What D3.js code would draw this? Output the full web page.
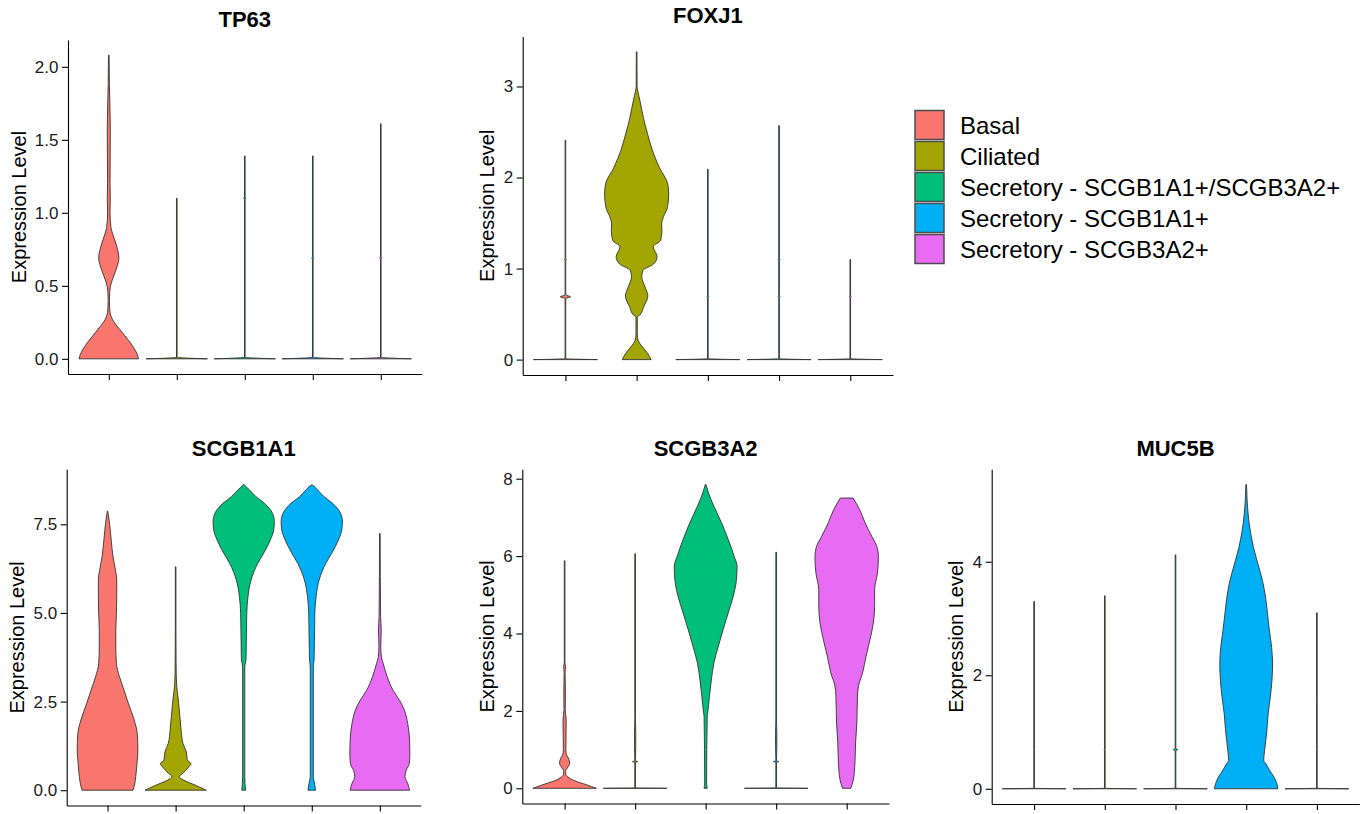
<!DOCTYPE html>
<html>
<head>
<meta charset="utf-8">
<title>Violin plots</title>
<script src="https://cdn.jsdelivr.net/npm/d3@7"></script>
<style>
  body { margin: 0; background: #fff; }
  text { font-family: "Liberation Sans", Arial, sans-serif; }
</style>
</head>
<body>
<script>
var cellTypes = ["Basal", "Ciliated", "Secretory - SCGB1A1+/SCGB3A2+", "Secretory - SCGB1A1+", "Secretory - SCGB3A2+"];
var colors = ["#F8766D", "#A3A500", "#00BF7D", "#00B0F6", "#E76BF3"];

// violin outlines, one per cell type: [expression level, relative half width]
var tp63Violins = [
  [[0,0.97],[0.03,0.93],[0.09,0.77],[0.18,0.44],[0.27,0.12],[0.32,0.04],[0.4,0.02],[0.46,0.03],[0.52,0.08],[0.6,0.22],[0.69,0.33],[0.77,0.26],[0.86,0.12],[0.9,0.07],[1.0,0.04],[1.1,0.05],[1.2,0.04],[1.55,0.05],[1.75,0.035],[1.88,0.02],[2.08,0.01]],
  [[0,1],[0.01,0.01],[1.1,0.01]],
  [[0,1],[0.01,0.01],[1.09,0.01],[1.1,0.03],[1.11,0.01],[1.39,0.01]],
  [[0,1],[0.01,0.01],[0.68,0.01],[0.69,0.03],[0.7,0.01],[1.39,0.01]],
  [[0,1],[0.01,0.01],[0.68,0.01],[0.69,0.03],[0.7,0.01],[1.61,0.01]]
];
var tp63Ticks = [0, 0.5, 1, 1.5, 2];

var foxj1Violins = [
  [[0,1],[0.01,0.01],[0.67,0.01],[0.69,0.16],[0.71,0.01],[1.09,0.01],[1.1,0.03],[1.11,0.01],[2.41,0.01]],
  [[0,0.45],[0.07,0.34],[0.14,0.18],[0.21,0.05],[0.28,0.02],[0.47,0.02],[0.49,0.1],[0.58,0.22],[0.7,0.35],[0.8,0.26],[0.91,0.16],[0.98,0.2],[1.05,0.53],[1.13,0.64],[1.24,0.52],[1.31,0.75],[1.42,0.79],[1.49,0.78],[1.57,0.84],[1.67,0.96],[1.82,1.0],[1.93,0.97],[2.11,0.71],[2.3,0.49],[2.48,0.34],[2.66,0.21],[2.85,0.1],[2.96,0.03],[3.0,0.015],[3.38,0.01]],
  [[0,1],[0.01,0.01],[0.68,0.01],[0.69,0.03],[0.7,0.01],[2.09,0.01]],
  [[0,1],[0.01,0.01],[0.68,0.01],[0.69,0.03],[0.7,0.01],[1.09,0.01],[1.1,0.03],[1.11,0.01],[2.57,0.01]],
  [[0,1],[0.01,0.01],[0.68,0.01],[0.69,0.03],[0.7,0.01],[1.1,0.01]]
];
var foxj1Ticks = [0, 1, 2, 3];

var scgb1a1Violins = [
  [[0,0.83],[0.15,0.88],[0.38,0.92],[0.75,0.96],[1.13,0.99],[1.6,0.97],[1.98,0.87],[2.45,0.68],[2.82,0.54],[3.2,0.39],[3.57,0.29],[4.05,0.27],[4.52,0.27],[4.99,0.29],[5.46,0.3],[5.93,0.3],[6.2,0.26],[6.58,0.18],[7.05,0.12],[7.53,0.065],[7.8,0.02],[7.87,0.01]],
  [[0,1],[0.14,0.65],[0.28,0.27],[0.38,0.12],[0.47,0.23],[0.66,0.43],[0.75,0.5],[0.85,0.38],[1.08,0.35],[1.32,0.24],[1.69,0.18],[2.07,0.14],[2.45,0.1],[2.82,0.05],[3.0,0.03],[3.57,0.015],[4.5,0.01],[6.3,0.01]],
  [[0,0.06],[0.38,0.035],[3.5,0.035],[3.67,0.075],[4.99,0.1],[5.46,0.14],[5.93,0.24],[6.4,0.46],[6.68,0.65],[7.06,0.87],[7.34,0.98],[7.58,1.0],[7.81,0.94],[8.09,0.68],[8.28,0.4],[8.47,0.19],[8.6,0.03],[8.62,0.01]],
  [[0,0.125],[0.19,0.09],[0.38,0.05],[3.5,0.05],[3.67,0.075],[4.99,0.1],[5.46,0.14],[5.93,0.24],[6.4,0.46],[6.68,0.65],[7.06,0.87],[7.34,0.98],[7.58,1.0],[7.81,0.94],[8.09,0.68],[8.28,0.4],[8.47,0.19],[8.6,0.03],[8.61,0.01]],
  [[0,0.97],[0.19,0.91],[0.38,0.82],[0.56,0.86],[0.75,0.96],[1.03,0.98],[1.41,0.97],[1.88,0.91],[2.26,0.8],[2.54,0.64],[2.82,0.43],[3.2,0.24],[3.57,0.11],[3.76,0.05],[4.05,0.03],[4.52,0.045],[4.9,0.025],[6.02,0.015],[7.24,0.01]]
];
var scgb1a1Ticks = [0, 2.5, 5, 7.5];

var scgb3a2Violins = [
  [[0,1],[0.095,0.68],[0.18,0.36],[0.27,0.14],[0.35,0.04],[0.44,0.03],[0.53,0.09],[0.65,0.16],[0.78,0.12],[0.87,0.06],[1.0,0.04],[1.77,0.05],[2.03,0.02],[2.5,0.025],[3.0,0.015],[3.15,0.03],[3.24,0.01],[5.88,0.01]],
  [[0,1],[0.01,0.01],[0.67,0.01],[0.69,0.085],[0.71,0.01],[1.1,0.02],[1.4,0.02],[1.6,0.015],[1.8,0.01],[6.06,0.01]],
  [[0,0.05],[0.14,0.03],[1.86,0.05],[1.95,0.065],[2.38,0.12],[2.8,0.18],[3.24,0.26],[3.67,0.4],[4.1,0.55],[4.53,0.71],[4.96,0.87],[5.39,0.97],[5.74,0.99],[5.99,0.9],[6.43,0.71],[6.86,0.5],[7.29,0.26],[7.63,0.09],[7.85,0.01]],
  [[0,1],[0.01,0.01],[0.67,0.01],[0.69,0.085],[0.71,0.01],[1.1,0.02],[1.4,0.02],[1.6,0.015],[1.8,0.01],[6.1,0.01]],
  [[0,0.13],[0.22,0.21],[0.65,0.26],[1.17,0.28],[1.69,0.32],[2.38,0.34],[2.64,0.37],[2.98,0.5],[3.41,0.61],[3.93,0.76],[4.27,0.84],[4.7,0.88],[5.13,0.88],[5.56,0.97],[5.99,1.0],[6.25,0.95],[6.51,0.79],[6.86,0.58],[7.2,0.41],[7.5,0.2]]
];
var scgb3a2Ticks = [0, 2, 4, 6, 8];

var muc5bViolins = [
  [[0,1],[0.01,0.01],[0.68,0.01],[0.69,0.03],[0.7,0.01],[3.3,0.01]],
  [[0,1],[0.01,0.01],[0.68,0.01],[0.69,0.03],[0.7,0.01],[3.4,0.01]],
  [[0,1],[0.01,0.01],[0.67,0.01],[0.69,0.07],[0.71,0.01],[4.12,0.01]],
  [[0,1],[0.094,0.96],[0.21,0.87],[0.33,0.73],[0.45,0.61],[0.5,0.55],[0.68,0.58],[1.03,0.65],[1.32,0.69],[1.62,0.76],[1.91,0.81],[2.2,0.83],[2.49,0.8],[2.79,0.73],[3.08,0.67],[3.37,0.61],[3.67,0.51],[3.96,0.37],[4.25,0.23],[4.54,0.13],[4.84,0.06],[5.07,0.03],[5.36,0.01]],
  [[0,1],[0.01,0.01],[0.68,0.01],[0.69,0.03],[0.7,0.01],[1.59,0.01],[1.6,0.03],[1.61,0.01],[3.1,0.01]]
];
var muc5bTicks = [0, 2, 4];

// panel frames (plot area in page pixels)
var panels = [
  {gene: "TP63",    violins: tp63Violins,    ticks: tp63Ticks,    fmt: ".1f", left: 68,    right: 421.6,  top: 40,    bottom: 374,   labelX: 26},
  {gene: "FOXJ1",   violins: foxj1Violins,   ticks: foxj1Ticks,   fmt: "d",   left: 522.7, right: 893,    top: 36.5,  bottom: 375,   labelX: 494},
  {gene: "SCGB1A1", violins: scgb1a1Violins, ticks: scgb1a1Ticks, fmt: ".1f", left: 66.7,  right: 420.7,  top: 469.3, bottom: 805.5, labelX: 24},
  {gene: "SCGB3A2", violins: scgb3a2Violins, ticks: scgb3a2Ticks, fmt: "d",   left: 522.3, right: 889,    top: 469.3, bottom: 803.5, labelX: 494},
  {gene: "MUC5B",   violins: muc5bViolins,   ticks: muc5bTicks,   fmt: "d",   left: 991.7, right: 1359.3, top: 469.3, bottom: 804,   labelX: 963}
];

var svg = d3.select("body").append("svg")
    .attr("width", 1363)
    .attr("height", 814);

panels.forEach(function(p) {
    var maxVal = d3.max(p.violins, function(v) { return d3.max(v, function(d) { return d[0]; }); });
    var y = d3.scaleLinear()
        .domain([-0.05 * maxVal, 1.05 * maxVal])
        .range([p.bottom, p.top]);
    var x = d3.scalePoint()
        .domain(cellTypes)
        .range([p.left, p.right])
        .padding(0.6);
    var half = x.step() * 0.45;

    var area = d3.area()
        .y(function(d) { return y(d[0]); })
        .x0(function(d) { return -d[1] * half; })
        .x1(function(d) { return d[1] * half; })
        .curve(d3.curveMonotoneY);

    var g = svg.append("g").attr("class", "panel");

    g.selectAll("path.violin")
        .data(p.violins)
        .enter().append("path")
        .attr("class", "violin")
        .attr("transform", function(d, i) { return "translate(" + x(cellTypes[i]) + ",0)"; })
        .attr("d", area)
        .attr("fill", function(d, i) { return colors[i]; })
        .attr("stroke", "#333")
        .attr("stroke-width", 0.9)
        .attr("stroke-linejoin", "round");

    // y axis
    var yAxis = g.append("g")
        .attr("transform", "translate(" + p.left + ",0)")
        .call(d3.axisLeft(y).tickValues(p.ticks).tickFormat(d3.format(p.fmt))
            .tickSize(6).tickSizeOuter(0).tickPadding(3.5));
    // x axis (no labels)
    var xAxis = g.append("g")
        .attr("transform", "translate(0," + p.bottom + ")")
        .call(d3.axisBottom(x).tickFormat("").tickSize(6).tickSizeOuter(0));

    g.selectAll(".domain, .tick line").attr("stroke", "#000").attr("stroke-width", 1.1);
    yAxis.selectAll("text")
        .attr("font-size", 17)
        .attr("fill", "#1a1a1a")
        .style("font-family", "'Liberation Sans', Arial, sans-serif");

    // title
    g.append("text")
        .attr("x", (p.left + p.right) / 2)
        .attr("y", p.top - 13.3)
        .attr("text-anchor", "middle")
        .attr("font-size", 22)
        .attr("font-weight", "bold")
        .text(p.gene);

    // y label
    g.append("text")
        .attr("transform", "translate(" + p.labelX + "," + (p.top + p.bottom) / 2 + ")rotate(-90)")
        .attr("text-anchor", "middle")
        .attr("font-size", 20)
        .text("Expression Level");
});

// legend
var legend = svg.append("g").attr("transform", "translate(915,110.5)");
var rows = legend.selectAll("g")
    .data(cellTypes)
    .enter().append("g")
    .attr("transform", function(d, i) { return "translate(0," + i * 31 + ")"; });
rows.append("rect")
    .attr("width", 29)
    .attr("height", 29)
    .attr("fill", function(d, i) { return colors[i]; })
    .attr("stroke", "#4d4d4d")
    .attr("stroke-width", 1.5);
rows.append("text")
    .attr("x", 45)
    .attr("y", 23.5)
    .attr("font-size", 24)
    .text(function(d) { return d; });
</script>
</body>
</html>
